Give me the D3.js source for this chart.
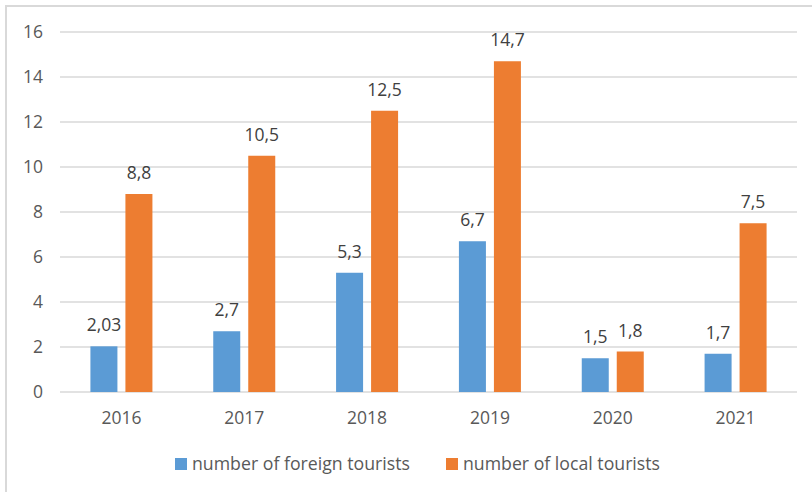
<!DOCTYPE html>
<html>
<head>
<meta charset="utf-8">
<script src="https://cdn.jsdelivr.net/npm/d3@7"></script>
<style>
  html, body { margin: 0; padding: 0; background: #fff; }
  svg { display: block; font-family: "Open Sans", "Noto Sans", sans-serif; }
</style>
</head>
<body>
<svg id="chart" width="812" height="492"></svg>
<script>
// Tourist arrivals by year (millions)
const years = ["2016", "2017", "2018", "2019", "2020", "2021"];
const foreignTourists = [2.03, 2.7, 5.3, 6.7, 1.5, 1.7];
const localTourists = [8.8, 10.5, 12.5, 14.7, 1.8, 7.5];
const seriesNames = ["number of foreign tourists", "number of local tourists"];
const seriesColors = ["#5B9BD5", "#ED7D31"];
const yTicks = [0, 2, 4, 6, 8, 10, 12, 14, 16];

const series = [foreignTourists, localTourists];

const svg = d3.select("#chart");
const plot = { left: 60, right: 797, top: 32, bottom: 392 };
const fontSize = 17.5;

// Chart frame
svg.append("rect")
  .attr("x", 6).attr("y", 6)
  .attr("width", 830).attr("height", 510)
  .attr("fill", "none")
  .attr("stroke", "#D9D9D9")
  .attr("stroke-width", 2);

const x0 = d3.scaleBand().domain(years).range([plot.left, plot.right]);
const x1 = d3.scaleBand().domain(d3.range(series.length))
  .range([-31, 31]).paddingInner(2 - 62 / 35);
const y = d3.scaleLinear().domain([0, 16]).range([plot.bottom, plot.top]);

const fmt = v => String(v).replace(".", ",");

// Horizontal gridlines
svg.append("g")
  .selectAll("line")
  .data(yTicks)
  .join("line")
  .attr("x1", plot.left).attr("x2", plot.right)
  .attr("y1", d => y(d)).attr("y2", d => y(d))
  .attr("stroke", "#D9D9D9")
  .attr("stroke-width", 1.5);

// Y axis labels
const yAxis = d3.axisLeft(y).tickValues(yTicks).tickSize(0).tickPadding(0);
const gy = svg.append("g").attr("transform", "translate(43,0)").call(yAxis);
gy.select(".domain").remove();
gy.selectAll("text")
  .attr("fill", "#595959")
  .attr("font-size", fontSize)
  .attr("font-family", "'Open Sans', sans-serif");

// X axis labels
const xAxis = d3.axisBottom(x0).tickSize(0).tickPadding(0);
const gx = svg.append("g").attr("transform", "translate(0,412)").call(xAxis);
gx.select(".domain").remove();
gx.selectAll("text")
  .attr("fill", "#595959")
  .attr("font-size", fontSize)
  .attr("font-family", "'Open Sans', sans-serif");

// Bars and value labels
const groups = svg.append("g")
  .selectAll("g")
  .data(years)
  .join("g")
  .attr("transform", d => `translate(${x0(d) + x0.bandwidth() / 2},0)`);

groups.selectAll("rect")
  .data((d, i) => series.map((s, k) => ({ k, v: s[i] })))
  .join("rect")
  .attr("x", d => x1(d.k))
  .attr("width", x1.bandwidth())
  .attr("y", d => y(d.v))
  .attr("height", d => y(0) - y(d.v))
  .attr("fill", d => seriesColors[d.k]);

groups.selectAll("text")
  .data((d, i) => series.map((s, k) => ({ k, v: s[i] })))
  .join("text")
  .attr("x", d => x1(d.k) + x1.bandwidth() / 2)
  .attr("y", d => y(d.v) - 15)
  .attr("text-anchor", "middle")
  .attr("fill", "#404040")
  .attr("font-size", fontSize)
  .text(d => fmt(d.v));

// Legend
const legendX = [175, 446];
const legendW = [218, 197];
const legend = svg.append("g")
  .selectAll("g")
  .data(seriesNames)
  .join("g")
  .attr("transform", (d, i) => `translate(${legendX[i]},458)`);
legend.append("rect")
  .attr("width", 12).attr("height", 12)
  .attr("fill", (d, i) => seriesColors[i]);
legend.append("text")
  .attr("x", 17).attr("y", 12)
  .attr("fill", "#595959")
  .attr("font-size", fontSize)
  .attr("textLength", (d, i) => legendW[i])
  .attr("lengthAdjust", "spacingAndGlyphs")
  .text(d => d);
</script>
</body>
</html>
